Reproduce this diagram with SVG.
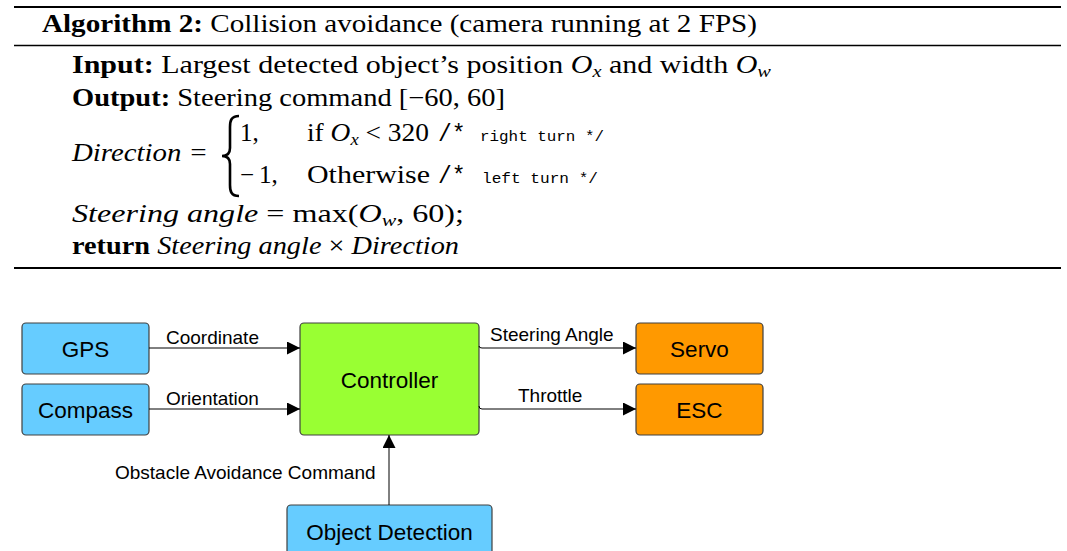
<svg xmlns="http://www.w3.org/2000/svg" width="1067" height="551" viewBox="0 0 1067 551">
<style>
.alg{font-family:"Liberation Serif","Times New Roman",serif;font-size:25px;fill:#000}
.b{font-weight:bold}
.i{font-style:italic}
.sub{font-size:17px;font-style:italic}
.tt{font-family:"Liberation Mono","Courier New",monospace;font-size:15.5px}
.tt2{font-family:"Liberation Mono","Courier New",monospace;font-size:23px}
.rule{stroke:#000;fill:none}
.node rect{stroke:#404040;stroke-width:1.2}
.node text{font-family:"Liberation Sans",Arial,sans-serif;font-size:22.5px;fill:#000;text-anchor:middle}
.blue{fill:#66CCFF}
.green{fill:#99FF33}
.orange{fill:#FF9900}
.conn path{stroke:#000;stroke-width:1;fill:none}
.lbl{font-family:"Liberation Sans",Arial,sans-serif;font-size:19px;fill:#000}
</style>
<defs>
<marker id="arr" viewBox="0 0 10 10" refX="10" refY="5" markerWidth="13" markerHeight="13" markerUnits="userSpaceOnUse" orient="auto">
<path d="M0,0 L10,5 L0,10 z" fill="#000"/>
</marker>
</defs>
<rect width="1067" height="551" fill="#fff"/>
<g id="algorithm">
<line class="rule" x1="14" y1="7" x2="1061" y2="7" stroke-width="2"/>
<line class="rule" x1="14" y1="45.5" x2="1061" y2="45.5" stroke-width="1.6"/>
<line class="rule" x1="14" y1="268" x2="1061" y2="268" stroke-width="2"/>
<text class="alg" x="42" y="32" textLength="715" lengthAdjust="spacingAndGlyphs"><tspan class="b">Algorithm 2:</tspan> Collision avoidance (camera running at 2 FPS)</text>
<text class="alg" x="72" y="73" textLength="699" lengthAdjust="spacingAndGlyphs"><tspan class="b">Input:</tspan> Largest detected object’s position <tspan class="i">O</tspan><tspan class="sub" dy="4">x</tspan><tspan dy="-4"> and width </tspan><tspan class="i">O</tspan><tspan class="sub" dy="4">w</tspan></text>
<text class="alg" x="72" y="106" textLength="433" lengthAdjust="spacingAndGlyphs"><tspan class="b">Output:</tspan> Steering command [−60, 60]</text>
<text class="alg i" x="72" y="161" textLength="136" lengthAdjust="spacingAndGlyphs">Direction =</text>
<path d="M239,116 C231,116 230,121 230,127 L230,148 C230,153 228,156 222,156 C228,156 230,159 230,164 L230,185 C230,191 231,196 239,196" fill="none" stroke="#000" stroke-width="2.6"/>
<text class="alg" x="240" y="141">1,</text>
<text class="alg" x="307" y="141" font-size="22" textLength="122" lengthAdjust="spacingAndGlyphs">if <tspan class="i">O</tspan><tspan class="sub" dy="4" font-size="15">x</tspan><tspan dy="-4"> &lt; 320</tspan></text>
<text class="tt2" x="438" y="141">/*</text>
<text class="tt" x="480" y="141" textLength="124" lengthAdjust="spacingAndGlyphs">right turn */</text>
<text class="alg" x="240" y="183">−<tspan x="259">1,</tspan></text>
<text class="alg" x="307" y="183" textLength="123" lengthAdjust="spacingAndGlyphs">Otherwise</text>
<text class="tt2" x="438" y="183">/*</text>
<text class="tt" x="482" y="183" textLength="116" lengthAdjust="spacingAndGlyphs">left turn */</text>
<text class="alg" x="72" y="222" textLength="392" lengthAdjust="spacingAndGlyphs"><tspan class="i">Steering angle</tspan> = max(<tspan class="i">O</tspan><tspan class="sub" dy="4">w</tspan><tspan dy="-4">, 60);</tspan></text>
<text class="alg" x="72" y="254" textLength="387" lengthAdjust="spacingAndGlyphs"><tspan class="b">return</tspan> <tspan class="i">Steering angle</tspan> × <tspan class="i">Direction</tspan></text>
</g>
<g id="gps" class="node"><rect class="blue" x="22" y="323" width="127" height="51" rx="4"/><text x="85.5" y="357">GPS</text></g>
<g id="compass" class="node"><rect class="blue" x="22" y="384" width="127" height="51" rx="4"/><text x="85.5" y="418">Compass</text></g>
<g id="controller" class="node"><rect class="green" x="300" y="323" width="179" height="112" rx="4"/><text x="389.5" y="388">Controller</text></g>
<g id="servo" class="node"><rect class="orange" x="636" y="323" width="127" height="51" rx="4"/><text x="699.5" y="357">Servo</text></g>
<g id="esc" class="node"><rect class="orange" x="636" y="384" width="127" height="51" rx="4"/><text x="699.5" y="418">ESC</text></g>
<g id="objdet" class="node"><rect class="blue" x="287" y="505" width="205" height="60" rx="4"/><text x="389.5" y="540">Object Detection</text></g>
<g id="connectors" class="conn">
<path d="M149,348 L300,348" marker-end="url(#arr)"/>
<path d="M149,409 L300,409" marker-end="url(#arr)"/>
<path d="M479,346 Q479,348 482,348 L636,348" marker-end="url(#arr)"/>
<path d="M479,406 Q479,409 482,409 L636,409" marker-end="url(#arr)"/>
<path d="M389,505 L389,435" marker-end="url(#arr)"/>
<text class="lbl" x="166" y="344">Coordinate</text>
<text class="lbl" x="166" y="405">Orientation</text>
<text class="lbl" x="490" y="341">Steering Angle</text>
<text class="lbl" x="518" y="402">Throttle</text>
<text class="lbl" x="115" y="479">Obstacle Avoidance Command</text>
</g>
</svg>
